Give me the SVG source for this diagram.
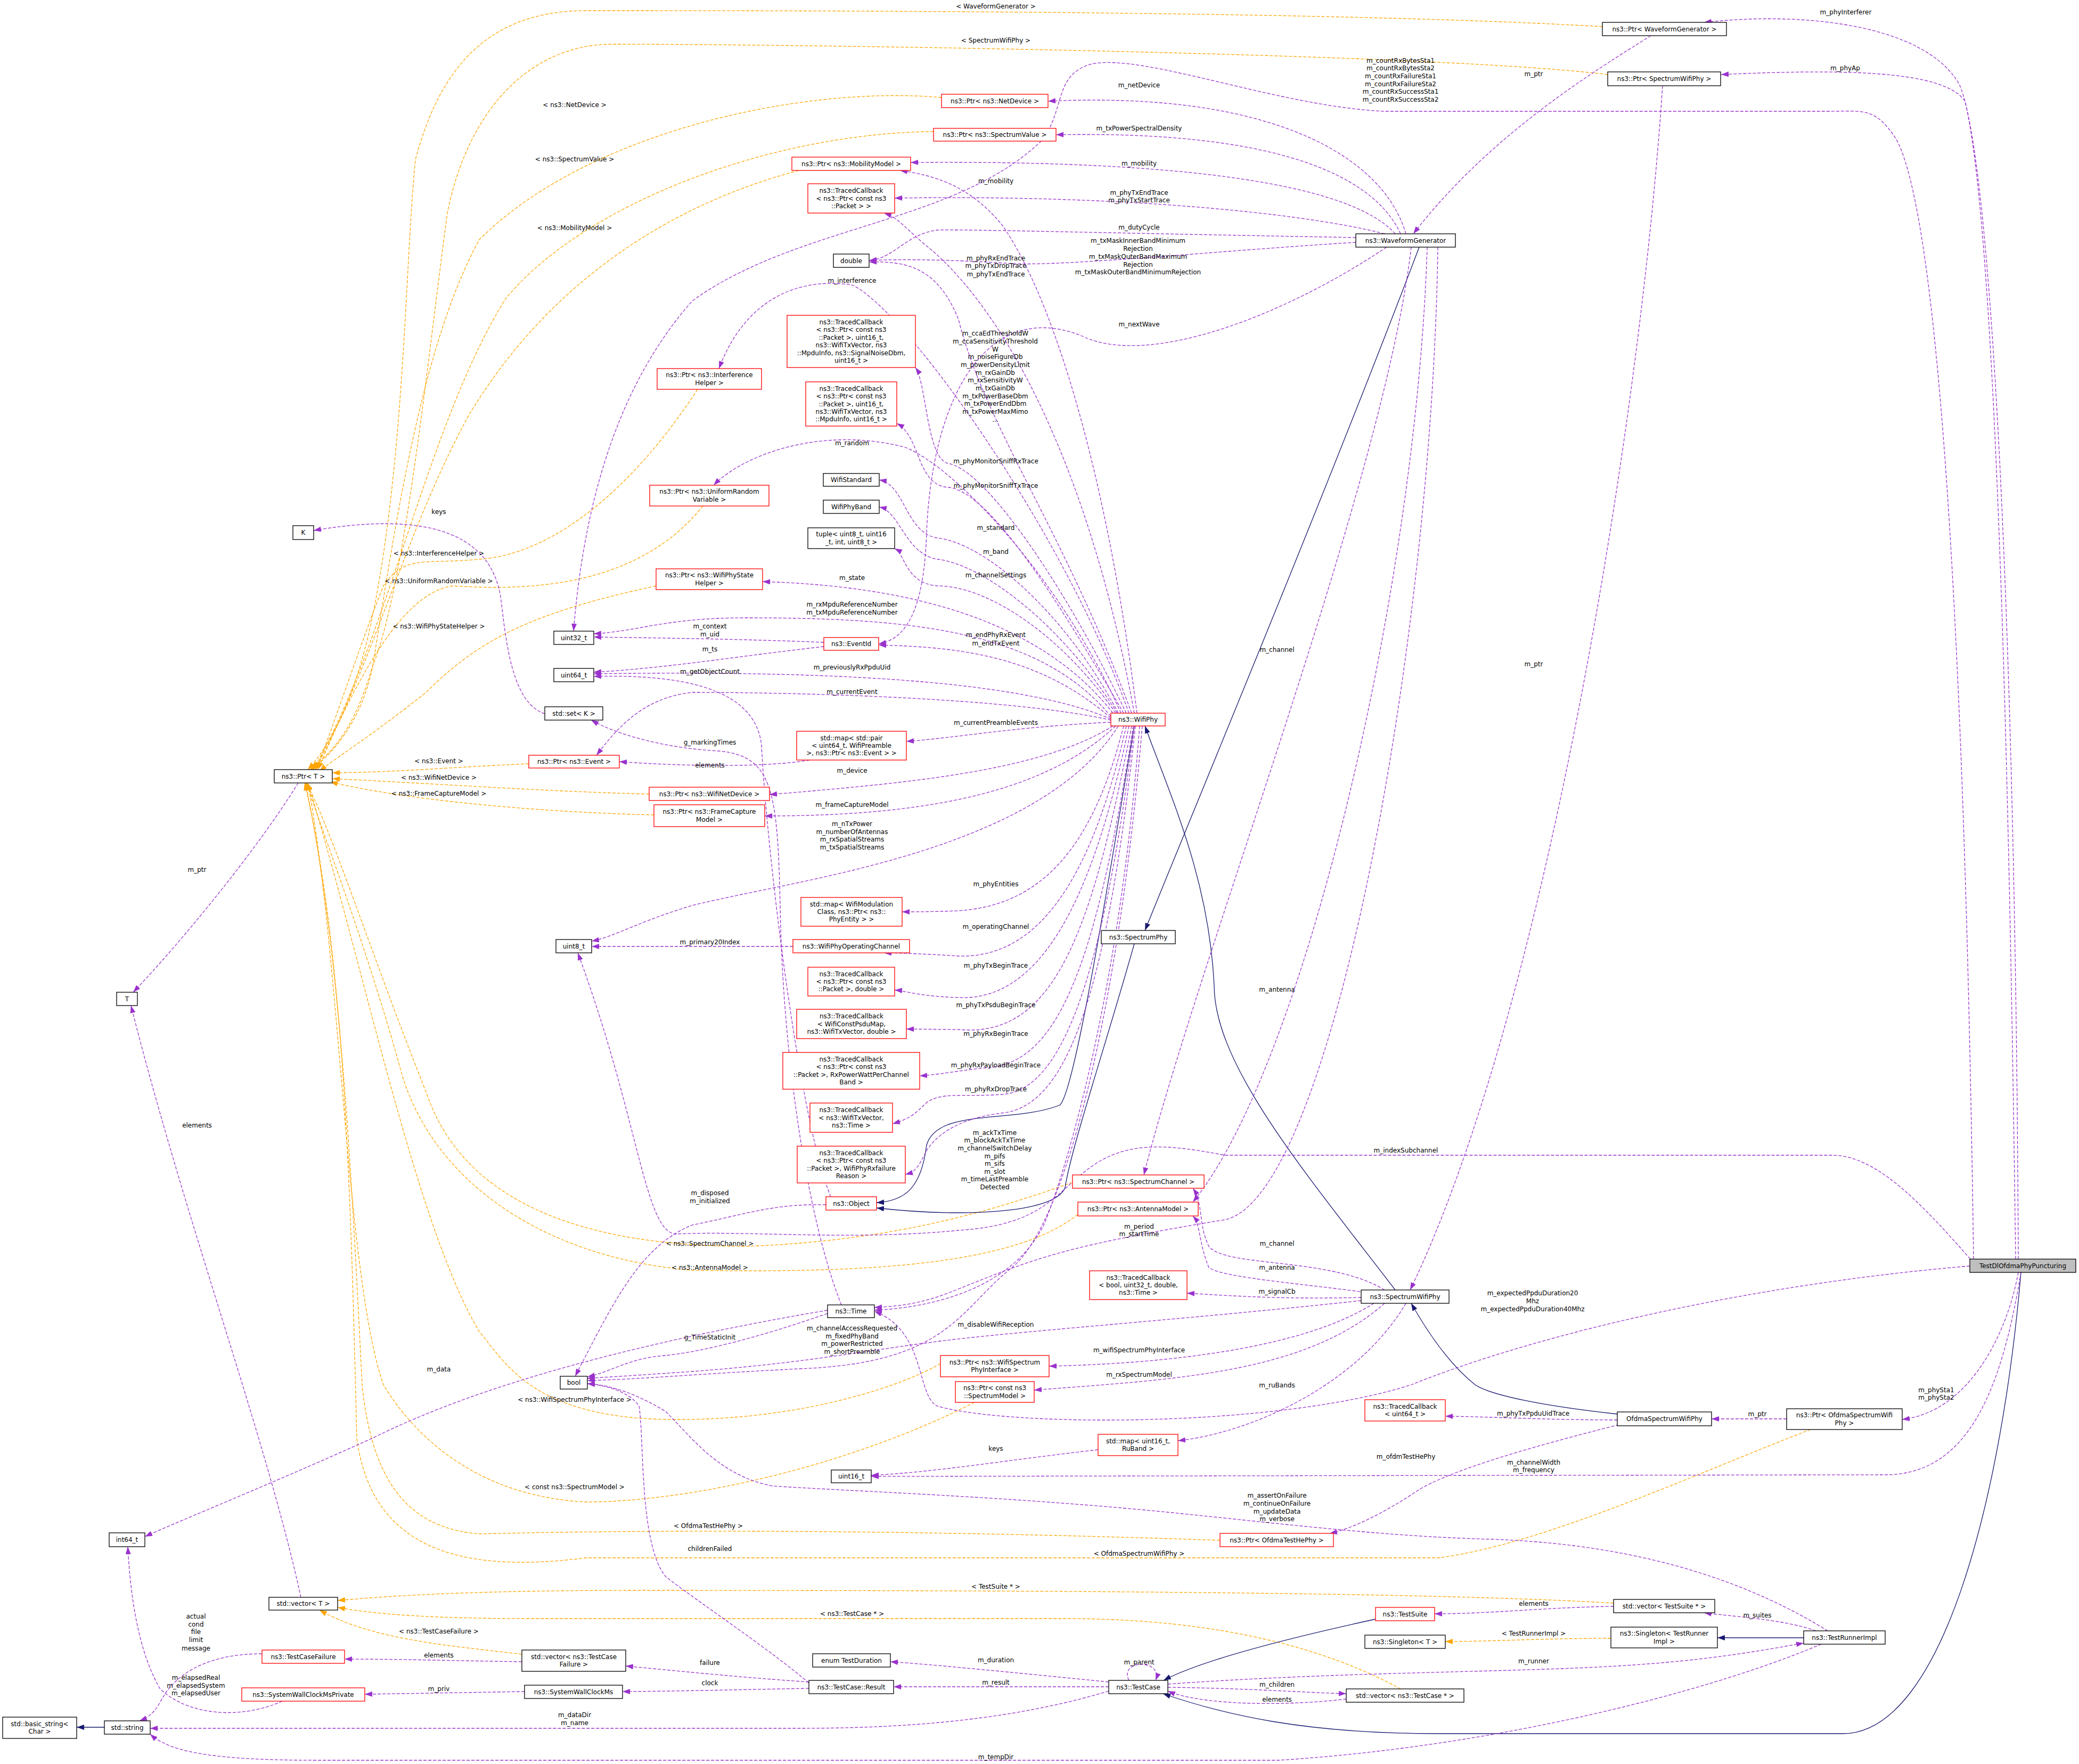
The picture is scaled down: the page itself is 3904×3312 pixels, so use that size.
<svg xmlns="http://www.w3.org/2000/svg" width="3904" height="3312" viewBox="0 0 3904 3312">
<style>
text{font-family:"DejaVu Sans","Liberation Sans",sans-serif;font-size:12px;fill:#000}
.n text{text-anchor:middle}
.b rect{fill:#fff;stroke:#000;stroke-width:1.3}
.r rect{fill:#fff;stroke:#ff0000;stroke-width:1.3}
.g rect{fill:#bfbfbf;stroke:#000;stroke-width:1.3}
.p{fill:none;stroke:#9a32cd;stroke-width:1.3;stroke-dasharray:6,3;marker-end:url(#ap)}
.o{fill:none;stroke:#ffa500;stroke-width:1.3;stroke-dasharray:6,3;marker-end:url(#ao)}
.u{fill:none;stroke:#191970;stroke-width:1.3;marker-end:url(#au)}
.l text{text-anchor:middle}
</style>
<defs>
<marker id="ap" markerUnits="userSpaceOnUse" markerWidth="16" markerHeight="12" refX="14" refY="5" orient="auto"><path d="M0,0 L14,5 L0,10 z" fill="#9a32cd"/></marker>
<marker id="ao" markerUnits="userSpaceOnUse" markerWidth="16" markerHeight="12" refX="14" refY="5" orient="auto"><path d="M0,0 L14,5 L0,10 z" fill="#ffa500"/></marker>
<marker id="au" markerUnits="userSpaceOnUse" markerWidth="16" markerHeight="12" refX="14" refY="5" orient="auto"><path d="M0,0 L14,5 L0,10 z" fill="#191970"/></marker>
</defs>
<rect width="3904" height="3312" fill="#fff"/>
<g id="edges">
<path class="o" d="M3009,50 C2500,20 1500,20 1100,20 C900,20 820,150 780,300 C760,500 760,900 690,1200 C660,1320 620,1400 578,1445"/>
<path class="o" d="M3019,140 C2700,100 1500,83 1150,83 C1000,83 880,200 840,400 C800,700 760,1100 700,1250 C670,1350 640,1400 582,1445"/>
<path class="o" d="M1768,183 C1500,160 1100,250 900,450 C790,650 740,1000 700,1250 C680,1350 630,1410 585,1445"/>
<path class="o" d="M1753,247 C1450,250 1100,380 950,560 C800,800 730,1200 588,1445"/>
<path class="o" d="M1500,320 C1200,400 1000,580 880,780 C760,1000 700,1250 591,1445"/>
<path class="o" d="M1310,731 C1200,900 1050,1040 900,1050 C800,1060 760,1040 720,1100 C680,1200 620,1380 594,1445"/>
<path class="o" d="M1320,950 C1200,1100 1000,1110 850,1100 C780,1110 700,1200 597,1445"/>
<path class="o" d="M1232,1100 C1000,1150 900,1200 800,1300 C700,1380 620,1430 600,1448"/>
<path class="o" d="M993,1434 C850,1440 750,1450 624,1451"/>
<path class="o" d="M1219,1491 C1000,1485 800,1470 624,1462"/>
<path class="o" d="M1228,1530 C1000,1525 750,1500 620,1468"/>
<path class="o" d="M2014,2220 C1900,2260 1700,2330 1400,2340 C1000,2340 850,2200 800,2050 C700,1800 620,1550 575,1470"/>
<path class="o" d="M2024,2280 C1900,2380 1600,2390 1300,2385 C1000,2360 800,2200 750,2000 C680,1750 600,1550 576,1470"/>
<path class="o" d="M1766,2560 C1700,2600 1500,2670 1250,2665 C1000,2660 950,2560 900,2500 C780,2300 680,1800 578,1470"/>
<path class="o" d="M1830,2633 C1600,2750 1300,2820 1100,2820 C900,2810 780,2700 720,2600 C650,2400 640,1800 578,1470"/>
<path class="o" d="M2291,2892 C1800,2875 1300,2870 900,2880 C780,2870 700,2800 680,2600 C660,2200 640,1800 574,1470"/>
<path class="o" d="M3400,2684 C3200,2760 2900,2900 2700,2925 L1100,2925 C900,2950 700,2930 670,2700 C660,2300 650,1800 572,1470"/>
<path class="o" d="M3030,3010 C2700,2990 2000,2986 1200,2986 C900,2986 750,2995 634,3005"/>
<path class="o" d="M2630,3171 C2500,3100 2300,3039 2000,3039 L1000,3039 C800,3039 700,3030 634,3018"/>
<path class="o" d="M980,3106 C850,3090 700,3080 600,3023"/>
<path class="o" d="M3025,3076 C2900,3076 2800,3082 2714,3082"/>
<path class="u" d="M3795,2389 C3760,2800 3650,3255 3460,3255 L2700,3255 C2450,3255 2300,3220 2184,3180"/>
<path class="u" d="M2665,464 C2500,900 2250,1500 2150,1747"/>
<path class="u" d="M2130,1363 C2090,1600 2020,2050 1990,2075 C1900,2110 1760,2080 1740,2150 C1730,2230 1700,2255 1646,2258"/>
<path class="u" d="M2130,1772 C2080,1950 2010,2160 2000,2230 C1980,2280 1800,2285 1646,2268"/>
<path class="u" d="M2620,2422 C2450,2200 2280,2000 2280,1850 C2270,1650 2200,1500 2150,1363"/>
<path class="u" d="M3037,2655 C2900,2640 2800,2620 2770,2600 C2720,2560 2680,2500 2650,2447"/>
<path class="u" d="M3387,3075 L3225,3075"/>
<path class="u" d="M2583,3040 C2400,3080 2250,3120 2185,3155"/>
<path class="u" d="M196,3243 L144,3243"/>
<path class="p" d="M3790,2364 C3785,1200 3740,300 3680,160 C3620,50 3400,20 3200,42"/>
<path class="p" d="M3785,2364 C3770,1200 3740,400 3690,190 C3650,130 3450,130 3232,140"/>
<path class="p" d="M3706,2364 C3690,1200 3640,400 3560,260 C3520,200 3500,209 3430,209 L2600,209 C2400,200 2150,100 2050,120 C1980,140 2000,200 1960,260 C1800,420 1500,420 1300,565 C1180,700 1100,900 1077,1185"/>
<path class="p" d="M3795,2389 C3760,2600 3700,2769 3540,2769 L1636,2772"/>
<path class="p" d="M3790,2389 C3770,2500 3700,2650 3572,2665"/>
<path class="p" d="M3699,2377 C3300,2410 2900,2500 2650,2600 C2400,2680 1900,2680 1760,2640 C1720,2620 1740,2500 1642,2462"/>
<path class="p" d="M3700,2364 C3600,2250 3520,2169 3440,2169 L2300,2169 C2200,2150 2120,2140 2050,2190 C1980,2240 1960,2300 1800,2310 C1600,2330 1400,2310 1268,2317 C1210,2310 1200,2100 1085,1789"/>
<path class="p" d="M3100,67 C3000,130 2800,250 2654,439"/>
<path class="p" d="M3122,161 C3080,800 2900,1900 2648,2422"/>
<path class="p" d="M2640,439 C2600,300 2400,170 1968,190"/>
<path class="p" d="M2630,439 C2580,330 2400,245 1983,253"/>
<path class="p" d="M2620,439 C2550,360 2300,300 1710,305"/>
<path class="p" d="M2600,439 C2450,400 2100,365 1680,372"/>
<path class="p" d="M2546,446 C2100,438 1800,430 1760,432 C1700,440 1680,485 1632,489"/>
<path class="p" d="M2546,455 C2300,470 2000,500 1900,495 C1800,488 1700,486 1632,489"/>
<path class="p" d="M2604,464 C2400,600 2150,690 2030,630 C1850,560 1750,750 1740,1000 C1735,1150 1700,1200 1650,1209"/>
<path class="p" d="M2650,464 C2600,900 2250,1800 2148,2206"/>
<path class="p" d="M2680,464 C2660,1100 2450,2000 2240,2257"/>
<path class="p" d="M2700,464 C2690,1200 2500,2250 2300,2290 C2000,2340 1950,2360 1800,2420 C1740,2445 1700,2452 1642,2455"/>
<path class="p" d="M2135,1339 C2080,900 1980,560 1880,420 C1820,350 1760,330 1690,320"/>
<path class="p" d="M2130,1339 C2050,900 1900,600 1750,470 C1700,430 1690,410 1660,400"/>
<path class="p" d="M2125,1339 C2000,1000 1850,800 1800,600 C1760,500 1700,490 1632,492"/>
<path class="p" d="M2120,1339 C2000,1000 1700,580 1600,535 C1500,520 1400,560 1350,692"/>
<path class="p" d="M2115,1339 C2000,1100 1850,880 1780,870 C1740,860 1740,720 1719,690"/>
<path class="p" d="M2110,1339 C2000,1150 1860,920 1780,915 C1720,910 1730,820 1684,795"/>
<path class="p" d="M2105,1339 C2000,1100 1800,880 1700,840 C1550,800 1400,850 1340,911"/>
<path class="p" d="M2100,1339 C2000,1150 1850,1020 1760,1010 C1700,1000 1700,910 1651,901"/>
<path class="p" d="M2098,1339 C2000,1180 1850,1060 1760,1050 C1700,1040 1690,960 1651,952"/>
<path class="p" d="M2095,1339 C2000,1200 1860,1100 1760,1100 C1700,1095 1700,1040 1680,1030"/>
<path class="p" d="M2090,1339 C1950,1160 1700,1100 1432,1092"/>
<path class="p" d="M2086,1345 C1950,1180 1700,1160 1400,1160 C1250,1160 1200,1185 1115,1190"/>
<path class="p" d="M2086,1348 C1950,1230 1800,1215 1650,1211"/>
<path class="p" d="M2086,1350 C1900,1270 1500,1260 1115,1265"/>
<path class="p" d="M2086,1352 C1900,1310 1500,1300 1300,1300 C1200,1310 1150,1380 1120,1418"/>
<path class="p" d="M2086,1356 C1900,1365 1800,1385 1702,1392"/>
<path class="p" d="M2090,1363 C1950,1450 1700,1470 1445,1492"/>
<path class="p" d="M2095,1363 C1950,1500 1700,1532 1436,1532"/>
<path class="p" d="M2100,1363 C1950,1600 1500,1650 1300,1700 C1200,1730 1150,1760 1111,1767"/>
<path class="p" d="M2110,1363 C2050,1600 1950,1700 1800,1710 C1750,1712 1720,1712 1694,1712"/>
<path class="p" d="M2115,1363 C2050,1650 1950,1800 1800,1795 C1720,1790 1700,1790 1660,1789"/>
<path class="p" d="M2120,1363 C2050,1700 1950,1880 1800,1873 C1720,1870 1700,1860 1680,1859"/>
<path class="p" d="M2125,1363 C2050,1750 1980,1950 1800,1933 L1702,1932"/>
<path class="p" d="M2128,1363 C2060,1800 1990,2000 1850,2005 C1800,2010 1760,2018 1727,2020"/>
<path class="p" d="M2130,1363 C2070,1850 1990,2050 1880,2055 C1800,2060 1770,2050 1740,2070 C1720,2090 1710,2100 1676,2110"/>
<path class="p" d="M2132,1363 C2075,1900 1995,2080 1880,2090 C1800,2100 1760,2130 1740,2160 C1725,2190 1720,2200 1700,2205"/>
<path class="p" d="M2140,1363 C2100,1900 1990,2230 1960,2300 C1900,2420 1750,2455 1642,2460"/>
<path class="p" d="M2145,1363 C2100,1900 2000,2300 1900,2380 C1800,2460 1780,2560 1500,2570 C1300,2580 1200,2590 1103,2592"/>
<path class="p" d="M2600,2422 C2500,2360 2300,2380 2270,2340 C2250,2300 2260,2260 2240,2231"/>
<path class="p" d="M2590,2430 C2450,2410 2300,2400 2270,2380 C2250,2330 2255,2300 2240,2283"/>
<path class="p" d="M2556,2436 C2400,2440 2300,2432 2229,2428"/>
<path class="p" d="M2556,2442 C2200,2480 1900,2500 1750,2520 C1600,2540 1500,2560 1300,2575 C1200,2582 1150,2585 1103,2588"/>
<path class="p" d="M2580,2447 C2450,2530 2200,2560 1970,2565"/>
<path class="p" d="M2600,2447 C2450,2580 2200,2590 1942,2610"/>
<path class="p" d="M2640,2447 C2550,2600 2350,2690 2212,2705"/>
<path class="p" d="M3037,2666 C2900,2666 2800,2660 2714,2659"/>
<path class="p" d="M3355,2664 L3214,2664"/>
<path class="p" d="M3040,2675 C2900,2710 2720,2760 2660,2800 C2600,2840 2540,2870 2497,2879"/>
<path class="p" d="M3432,3062 C3300,2980 3100,2900 2800,2890 C2600,2885 2400,2860 2200,2840 C1900,2810 1600,2800 1450,2790 C1350,2770 1300,2700 1250,2650 C1200,2620 1150,2600 1103,2598"/>
<path class="p" d="M3410,3062 C3350,3040 3250,3035 3200,3028"/>
<path class="p" d="M2193,3162 C2500,3140 2800,3140 3000,3130 C3200,3120 3300,3100 3387,3085"/>
<path class="p" d="M3420,3087 C3200,3180 2800,3280 2400,3305 L600,3305 C400,3305 320,3290 282,3256"/>
<path class="p" d="M3030,3016 C2900,3018 2800,3030 2694,3030"/>
<path class="p" d="M2120,3155 C2100,3115 2185,3115 2170,3155"/>
<path class="p" d="M2082,3158 C1900,3140 1750,3125 1672,3120"/>
<path class="p" d="M2082,3167 L1678,3167"/>
<path class="p" d="M2193,3168 C2350,3170 2450,3178 2528,3180"/>
<path class="p" d="M2528,3190 C2400,3205 2250,3200 2193,3175"/>
<path class="p" d="M2082,3175 C1900,3230 1700,3245 1500,3245 L282,3245"/>
<path class="p" d="M1519,3158 C1400,3150 1300,3140 1175,3128"/>
<path class="p" d="M1519,3170 C1400,3172 1300,3175 1169,3176"/>
<path class="p" d="M1519,3160 C1450,3100 1300,3000 1250,2960 C1200,2900 1210,2700 1200,2640 C1180,2610 1130,2600 1103,2598"/>
<path class="p" d="M980,3120 C850,3118 750,3115 647,3115"/>
<path class="p" d="M492,3105 C380,3105 330,3150 310,3180 C295,3205 290,3220 262,3231"/>
<path class="p" d="M985,3176 L685,3181"/>
<path class="p" d="M530,3194 C450,3230 350,3220 300,3170 C260,3100 245,3000 240,2904"/>
<path class="p" d="M565,2999 C500,2700 350,2300 246,1888"/>
<path class="p" d="M560,1470 C480,1600 330,1780 250,1863"/>
<path class="p" d="M1023,1340 C960,1320 950,1200 940,1120 C920,1000 800,960 589,996"/>
<path class="p" d="M2062,2722 C1900,2740 1750,2765 1636,2770"/>
<path class="p" d="M1554,2460 C1200,2520 900,2600 700,2700 C500,2790 350,2850 272,2885"/>
<path class="p" d="M1554,2466 C1400,2520 1300,2540 1250,2545 C1180,2550 1150,2575 1103,2585"/>
<path class="p" d="M1580,2450 C1520,2300 1470,2000 1465,1700 C1460,1480 1450,1420 1350,1410 C1250,1405 1160,1380 1110,1352"/>
<path class="p" d="M1560,2247 C1500,2100 1440,1600 1430,1400 C1420,1300 1300,1265 1115,1270"/>
<path class="p" d="M1551,2262 C1450,2260 1400,2280 1300,2300 C1200,2340 1150,2450 1080,2584"/>
<path class="p" d="M1547,1206 C1400,1200 1250,1198 1115,1196"/>
<path class="p" d="M1547,1214 C1400,1230 1250,1255 1115,1262"/>
<path class="p" d="M1520,1427 C1450,1440 1300,1440 1163,1430"/>
<path class="p" d="M1489,1777 L1111,1777"/>
<g class="l">
<text x="1870" y="16">&lt; WaveformGenerator &gt;</text>
<text x="1870" y="80">&lt; SpectrumWifiPhy &gt;</text>
<text x="1079" y="201">&lt; ns3::NetDevice &gt;</text>
<text x="1079" y="303">&lt; ns3::SpectrumValue &gt;</text>
<text x="1079" y="432">&lt; ns3::MobilityModel &gt;</text>
<text x="824" y="965">keys</text>
<text x="824" y="1043">&lt; ns3::InterferenceHelper &gt;</text>
<text x="824" y="1095">&lt; ns3::UniformRandomVariable &gt;</text>
<text x="824" y="1180">&lt; ns3::WifiPhyStateHelper &gt;</text>
<text x="824" y="1433">&lt; ns3::Event &gt;</text>
<text x="824" y="1464">&lt; ns3::WifiNetDevice &gt;</text>
<text x="824" y="1494">&lt; ns3::FrameCaptureModel &gt;</text>
<text x="370" y="1637">m_ptr</text>
<text x="370" y="2117">elements</text>
<text x="3466" y="27">m_phyInterferer</text>
<text x="3465" y="132">m_phyAp</text>
<text x="2880" y="143">m_ptr</text>
<text x="2880" y="1251">m_ptr</text>
<text x="2630" y="118">m_countRxBytesSta1</text>
<text x="2630" y="132">m_countRxBytesSta2</text>
<text x="2630" y="147">m_countRxFailureSta1</text>
<text x="2630" y="162">m_countRxFailureSta2</text>
<text x="2630" y="176">m_countRxSuccessSta1</text>
<text x="2630" y="191">m_countRxSuccessSta2</text>
<text x="2139" y="164">m_netDevice</text>
<text x="2139" y="245">m_txPowerSpectralDensity</text>
<text x="2139" y="311">m_mobility</text>
<text x="1870" y="344">m_mobility</text>
<text x="2139" y="366">m_phyTxEndTrace</text>
<text x="2139" y="380">m_phyTxStartTrace</text>
<text x="2139" y="431">m_dutyCycle</text>
<text x="2137" y="456">m_txMaskInnerBandMinimum</text>
<text x="2137" y="471">Rejection</text>
<text x="2137" y="486">m_txMaskOuterBandMaximum</text>
<text x="2137" y="501">Rejection</text>
<text x="2137" y="515">m_txMaskOuterBandMinimumRejection</text>
<text x="1870" y="489">m_phyRxEndTrace</text>
<text x="1870" y="503">m_phyTxDropTrace</text>
<text x="1870" y="519">m_phyTxEndTrace</text>
<text x="1600" y="531">m_interference</text>
<text x="2139" y="613">m_nextWave</text>
<text x="1869" y="630">m_ccaEdThresholdW</text>
<text x="1869" y="645">m_ccaSensitivityThreshold</text>
<text x="1869" y="660">W</text>
<text x="1869" y="674">m_noiseFigureDb</text>
<text x="1869" y="689">m_powerDensityLimit</text>
<text x="1869" y="704">m_rxGainDb</text>
<text x="1869" y="718">m_rxSensitivityW</text>
<text x="1869" y="733">m_txGainDb</text>
<text x="1869" y="748">m_txPowerBaseDbm</text>
<text x="1869" y="762">m_txPowerEndDbm</text>
<text x="1869" y="777">m_txPowerMaxMimo</text>
<text x="1869" y="792">...</text>
<text x="1600" y="836">m_random</text>
<text x="1870" y="870">m_phyMonitorSniffRxTrace</text>
<text x="1870" y="916">m_phyMonitorSniffTxTrace</text>
<text x="1870" y="995">m_standard</text>
<text x="1870" y="1040">m_band</text>
<text x="1870" y="1084">m_channelSettings</text>
<text x="1600" y="1089">m_state</text>
<text x="1600" y="1139">m_rxMpduReferenceNumber</text>
<text x="1600" y="1154">m_txMpduReferenceNumber</text>
<text x="1333" y="1180">m_context</text>
<text x="1333" y="1195">m_uid</text>
<text x="1333" y="1223">m_ts</text>
<text x="1333" y="1265">m_getObjectCount</text>
<text x="1333" y="1398">g_markingTimes</text>
<text x="1333" y="1441">elements</text>
<text x="1333" y="1773">m_primary20Index</text>
<text x="1870" y="1196">m_endPhyRxEvent</text>
<text x="1870" y="1212">m_endTxEvent</text>
<text x="1600" y="1257">m_previouslyRxPpduUid</text>
<text x="1600" y="1303">m_currentEvent</text>
<text x="1870" y="1361">m_currentPreambleEvents</text>
<text x="1600" y="1451">m_device</text>
<text x="1600" y="1515">m_frameCaptureModel</text>
<text x="1600" y="1551">m_nTxPower</text>
<text x="1600" y="1566">m_numberOfAntennas</text>
<text x="1600" y="1580">m_rxSpatialStreams</text>
<text x="1600" y="1595">m_txSpatialStreams</text>
<text x="1870" y="1664">m_phyEntities</text>
<text x="1870" y="1744">m_operatingChannel</text>
<text x="1870" y="1817">m_phyTxBeginTrace</text>
<text x="1870" y="1891">m_phyTxPsduBeginTrace</text>
<text x="1870" y="1945">m_phyRxBeginTrace</text>
<text x="1870" y="2004">m_phyRxPayloadBeginTrace</text>
<text x="1870" y="2049">m_phyRxDropTrace</text>
<text x="1868" y="2131">m_ackTxTime</text>
<text x="1868" y="2145">m_blockAckTxTime</text>
<text x="1868" y="2160">m_channelSwitchDelay</text>
<text x="1868" y="2175">m_pifs</text>
<text x="1868" y="2189">m_sifs</text>
<text x="1868" y="2204">m_slot</text>
<text x="1868" y="2218">m_timeLastPreamble</text>
<text x="1868" y="2233">Detected</text>
<text x="2398" y="1224">m_channel</text>
<text x="2398" y="1862">m_antenna</text>
<text x="2640" y="2164">m_indexSubchannel</text>
<text x="1333" y="2244">m_disposed</text>
<text x="1333" y="2259">m_initialized</text>
<text x="1333" y="2339">&lt; ns3::SpectrumChannel &gt;</text>
<text x="1333" y="2384">&lt; ns3::AntennaModel &gt;</text>
<text x="1333" y="2515">g_TimeStaticInit</text>
<text x="824" y="2575">m_data</text>
<text x="1079" y="2632">&lt; ns3::WifiSpectrumPhyInterface &gt;</text>
<text x="1079" y="2796">&lt; const ns3::SpectrumModel &gt;</text>
<text x="1330" y="2869">&lt; OfdmaTestHePhy &gt;</text>
<text x="1333" y="2912">childrenFailed</text>
<text x="824" y="3067">&lt; ns3::TestCaseFailure &gt;</text>
<text x="368" y="3039">actual</text>
<text x="368" y="3054">cond</text>
<text x="368" y="3068">file</text>
<text x="368" y="3083">limit</text>
<text x="368" y="3099">message</text>
<text x="824" y="3112">elements</text>
<text x="368" y="3154">m_elapsedReal</text>
<text x="368" y="3169">m_elapsedSystem</text>
<text x="368" y="3183">m_elapsedUser</text>
<text x="824" y="3175">m_priv</text>
<text x="1333" y="3126">failure</text>
<text x="1333" y="3164">clock</text>
<text x="1079" y="3224">m_dataDir</text>
<text x="1079" y="3239">m_name</text>
<text x="2139" y="2307">m_period</text>
<text x="2139" y="2321">m_startTime</text>
<text x="2398" y="2339">m_channel</text>
<text x="2398" y="2384">m_antenna</text>
<text x="2398" y="2429">m_signalCb</text>
<text x="1600" y="2498">m_channelAccessRequested</text>
<text x="1600" y="2513">m_fixedPhyBand</text>
<text x="1600" y="2527">m_powerRestricted</text>
<text x="1600" y="2542">m_shortPreamble</text>
<text x="1870" y="2491">m_disableWifiReception</text>
<text x="2139" y="2539">m_wifiSpectrumPhyInterface</text>
<text x="2139" y="2585">m_rxSpectrumModel</text>
<text x="2398" y="2605">m_ruBands</text>
<text x="1870" y="2724">keys</text>
<text x="2640" y="2739">m_ofdmTestHePhy</text>
<text x="2398" y="2812">m_assertOnFailure</text>
<text x="2398" y="2827">m_continueOnFailure</text>
<text x="2398" y="2842">m_updateData</text>
<text x="2398" y="2856">m_verbose</text>
<text x="2139" y="2921">&lt; OfdmaSpectrumWifiPhy &gt;</text>
<text x="1870" y="2983">&lt; TestSuite * &gt;</text>
<text x="1600" y="3034">&lt; ns3::TestCase * &gt;</text>
<text x="1870" y="3121">m_duration</text>
<text x="2139" y="3125">m_parent</text>
<text x="1870" y="3163">m_result</text>
<text x="2398" y="3167">m_children</text>
<text x="2398" y="3195">elements</text>
<text x="1870" y="3303">m_tempDir</text>
<text x="2878" y="2432">m_expectedPpduDuration20</text>
<text x="2878" y="2447">Mhz</text>
<text x="2878" y="2462">m_expectedPpduDuration40Mhz</text>
<text x="3636" y="2614">m_phySta1</text>
<text x="3636" y="2628">m_phySta2</text>
<text x="2879" y="2658">m_phyTxPpduUidTrace</text>
<text x="3300" y="2659">m_ptr</text>
<text x="2880" y="2750">m_channelWidth</text>
<text x="2880" y="2764">m_frequency</text>
<text x="2880" y="3015">elements</text>
<text x="3300" y="3037">m_suites</text>
<text x="2880" y="3071">&lt; TestRunnerImpl &gt;</text>
<text x="2880" y="3123">m_runner</text>
</g>
</g>
<g id="n1" class="n b"><rect x="3009" y="42" width="233" height="25"/><text x="3125.5" y="58.5">ns3::Ptr&lt; WaveformGenerator &gt;</text></g>
<g id="n2" class="n b"><rect x="3019" y="135" width="212" height="26"/><text x="3125" y="152">ns3::Ptr&lt; SpectrumWifiPhy &gt;</text></g>
<g id="n3" class="n b"><rect x="2546" y="439" width="187" height="25"/><text x="2639.5" y="455.5">ns3::WaveformGenerator</text></g>
<g id="n4" class="n r"><rect x="1768" y="177" width="200" height="25"/><text x="1868" y="193.5">ns3::Ptr&lt; ns3::NetDevice &gt;</text></g>
<g id="n5" class="n r"><rect x="1753" y="241" width="230" height="24"/><text x="1868" y="257">ns3::Ptr&lt; ns3::SpectrumValue &gt;</text></g>
<g id="n6" class="n r"><rect x="1487" y="295" width="223" height="25"/><text x="1598.5" y="311.5">ns3::Ptr&lt; ns3::MobilityModel &gt;</text></g>
<g id="n7" class="n r"><rect x="1517" y="345" width="163" height="55"/><text x="1598.5" y="362"><tspan x="1598.5" y="362">ns3::TracedCallback</tspan><tspan x="1598.5" y="376.5">&lt; ns3::Ptr&lt; const ns3</tspan><tspan x="1598.5" y="391">::Packet &gt; &gt;</tspan></text></g>
<g id="n8" class="n b"><rect x="1565" y="477" width="67" height="25"/><text x="1598.5" y="493.5">double</text></g>
<g id="n9" class="n r"><rect x="1478" y="592" width="241" height="98"/><text x="1598.5" y="609"><tspan x="1598.5" y="609">ns3::TracedCallback</tspan><tspan x="1598.5" y="623.4">&lt; ns3::Ptr&lt; const ns3</tspan><tspan x="1598.5" y="637.8">::Packet &gt;, uint16_t,</tspan><tspan x="1598.5" y="652.2">ns3::WifiTxVector, ns3</tspan><tspan x="1598.5" y="666.6">::MpduInfo, ns3::SignalNoiseDbm,</tspan><tspan x="1598.5" y="681">uint16_t &gt;</tspan></text></g>
<g id="n10" class="n r"><rect x="1513" y="717" width="171" height="83"/><text x="1598.5" y="733.7"><tspan x="1598.5" y="733.7">ns3::TracedCallback</tspan><tspan x="1598.5" y="748.1">&lt; ns3::Ptr&lt; const ns3</tspan><tspan x="1598.5" y="762.5">::Packet &gt;, uint16_t,</tspan><tspan x="1598.5" y="776.9">ns3::WifiTxVector, ns3</tspan><tspan x="1598.5" y="791.3">::MpduInfo, uint16_t &gt;</tspan></text></g>
<g id="n11" class="n b"><rect x="1546" y="889" width="105" height="24"/><text x="1598.5" y="905">WifiStandard</text></g>
<g id="n12" class="n b"><rect x="1546" y="939" width="105" height="25"/><text x="1598.5" y="955.5">WifiPhyBand</text></g>
<g id="n13" class="n b"><rect x="1517" y="991" width="163" height="39"/><text x="1598.5" y="1007.3"><tspan x="1598.5" y="1007.3">tuple&lt; uint8_t, uint16</tspan><tspan x="1598.5" y="1021.7">_t, int, uint8_t &gt;</tspan></text></g>
<g id="n14" class="n r"><rect x="1234" y="692" width="196" height="39"/><text x="1332" y="708.3"><tspan x="1332" y="708.3">ns3::Ptr&lt; ns3::Interference</tspan><tspan x="1332" y="722.7">Helper &gt;</tspan></text></g>
<g id="n15" class="n r"><rect x="1220" y="911" width="224" height="39"/><text x="1332" y="927.3"><tspan x="1332" y="927.3">ns3::Ptr&lt; ns3::UniformRandom</tspan><tspan x="1332" y="941.7">Variable &gt;</tspan></text></g>
<g id="n16" class="n r"><rect x="1232" y="1068" width="200" height="39"/><text x="1332" y="1084.3"><tspan x="1332" y="1084.3">ns3::Ptr&lt; ns3::WifiPhyState</tspan><tspan x="1332" y="1098.7">Helper &gt;</tspan></text></g>
<g id="n17" class="n b"><rect x="550" y="987" width="39" height="26"/><text x="569.5" y="1004">K</text></g>
<g id="n18" class="n b"><rect x="1040" y="1185" width="75" height="25"/><text x="1077.5" y="1201.5">uint32_t</text></g>
<g id="n19" class="n b"><rect x="1040" y="1255" width="75" height="25"/><text x="1077.5" y="1271.5">uint64_t</text></g>
<g id="n20" class="n b"><rect x="1023" y="1327" width="109" height="25"/><text x="1077.5" y="1343.5">std::set&lt; K &gt;</text></g>
<g id="n21" class="n r"><rect x="993" y="1418" width="170" height="24"/><text x="1078" y="1434">ns3::Ptr&lt; ns3::Event &gt;</text></g>
<g id="n22" class="n b"><rect x="515" y="1445" width="109" height="25"/><text x="569.5" y="1461.5">ns3::Ptr&lt; T &gt;</text></g>
<g id="n23" class="n r"><rect x="1219" y="1478" width="226" height="25"/><text x="1332" y="1494.5">ns3::Ptr&lt; ns3::WifiNetDevice &gt;</text></g>
<g id="n24" class="n r"><rect x="1228" y="1511" width="208" height="41"/><text x="1332" y="1528.3"><tspan x="1332" y="1528.3">ns3::Ptr&lt; ns3::FrameCapture</tspan><tspan x="1332" y="1542.7">Model &gt;</tspan></text></g>
<g id="n25" class="n b"><rect x="1044" y="1764" width="67" height="25"/><text x="1077.5" y="1780.5">uint8_t</text></g>
<g id="n26" class="n b"><rect x="219" y="1863" width="39" height="25"/><text x="238.5" y="1879.5">T</text></g>
<g id="n27" class="n r"><rect x="1547" y="1197" width="103" height="24"/><text x="1598.5" y="1213">ns3::EventId</text></g>
<g id="n28" class="n r"><rect x="2086" y="1339" width="102" height="24"/><text x="2137" y="1355">ns3::WifiPhy</text></g>
<g id="n29" class="n r"><rect x="1496" y="1373" width="206" height="54"/><text x="1599" y="1389.6"><tspan x="1599" y="1389.6">std::map&lt; std::pair</tspan><tspan x="1599" y="1404">&lt; uint64_t, WifiPreamble</tspan><tspan x="1599" y="1418.4">&gt;, ns3::Ptr&lt; ns3::Event &gt; &gt;</tspan></text></g>
<g id="n30" class="n r"><rect x="1504" y="1685" width="190" height="54"/><text x="1599" y="1701.6"><tspan x="1599" y="1701.6">std::map&lt; WifiModulation</tspan><tspan x="1599" y="1716">Class, ns3::Ptr&lt; ns3::</tspan><tspan x="1599" y="1730.4">PhyEntity &gt; &gt;</tspan></text></g>
<g id="n31" class="n r"><rect x="1489" y="1764" width="219" height="25"/><text x="1598.5" y="1780.5">ns3::WifiPhyOperatingChannel</text></g>
<g id="n32" class="n r"><rect x="1517" y="1816" width="163" height="54"/><text x="1598.5" y="1832.6"><tspan x="1598.5" y="1832.6">ns3::TracedCallback</tspan><tspan x="1598.5" y="1847">&lt; ns3::Ptr&lt; const ns3</tspan><tspan x="1598.5" y="1861.4">::Packet &gt;, double &gt;</tspan></text></g>
<g id="n33" class="n r"><rect x="1496" y="1895" width="206" height="55"/><text x="1599" y="1912.1"><tspan x="1599" y="1912.1">ns3::TracedCallback</tspan><tspan x="1599" y="1926.5">&lt; WifiConstPsduMap,</tspan><tspan x="1599" y="1940.9">ns3::WifiTxVector, double &gt;</tspan></text></g>
<g id="n34" class="n r"><rect x="1470" y="1976" width="257" height="69"/><text x="1598.5" y="1992.9"><tspan x="1598.5" y="1992.9">ns3::TracedCallback</tspan><tspan x="1598.5" y="2007.3">&lt; ns3::Ptr&lt; const ns3</tspan><tspan x="1598.5" y="2021.7">::Packet &gt;, RxPowerWattPerChannel</tspan><tspan x="1598.5" y="2036.1">Band &gt;</tspan></text></g>
<g id="n35" class="n r"><rect x="1521" y="2071" width="155" height="55"/><text x="1598.5" y="2088.1"><tspan x="1598.5" y="2088.1">ns3::TracedCallback</tspan><tspan x="1598.5" y="2102.5">&lt; ns3::WifiTxVector,</tspan><tspan x="1598.5" y="2116.9">ns3::Time &gt;</tspan></text></g>
<g id="n36" class="n r"><rect x="1497" y="2152" width="203" height="69"/><text x="1598.5" y="2168.9"><tspan x="1598.5" y="2168.9">ns3::TracedCallback</tspan><tspan x="1598.5" y="2183.3">&lt; ns3::Ptr&lt; const ns3</tspan><tspan x="1598.5" y="2197.7">::Packet &gt;, WifiPhyRxfailure</tspan><tspan x="1598.5" y="2212.1">Reason &gt;</tspan></text></g>
<g id="n37" class="n b"><rect x="2068" y="1747" width="139" height="25"/><text x="2137.5" y="1763.5">ns3::SpectrumPhy</text></g>
<g id="n38" class="n r"><rect x="2014" y="2206" width="247" height="25"/><text x="2137.5" y="2222.5">ns3::Ptr&lt; ns3::SpectrumChannel &gt;</text></g>
<g id="n39" class="n r"><rect x="1551" y="2247" width="95" height="25"/><text x="1598.5" y="2263.5">ns3::Object</text></g>
<g id="n40" class="n r"><rect x="2024" y="2257" width="226" height="26"/><text x="2137" y="2274">ns3::Ptr&lt; ns3::AntennaModel &gt;</text></g>
<g id="n41" class="n b"><rect x="1554" y="2450" width="88" height="24"/><text x="1598" y="2466">ns3::Time</text></g>
<g id="n42" class="n r"><rect x="2046" y="2386" width="183" height="54"/><text x="2137.5" y="2402.6"><tspan x="2137.5" y="2402.6">ns3::TracedCallback</tspan><tspan x="2137.5" y="2417">&lt; bool, uint32_t, double,</tspan><tspan x="2137.5" y="2431.4">ns3::Time &gt;</tspan></text></g>
<g id="n43" class="n b"><rect x="2556" y="2422" width="165" height="25"/><text x="2638.5" y="2438.5">ns3::SpectrumWifiPhy</text></g>
<g id="n44" class="n r"><rect x="1766" y="2545" width="204" height="40"/><text x="1868" y="2561.8"><tspan x="1868" y="2561.8">ns3::Ptr&lt; ns3::WifiSpectrum</tspan><tspan x="1868" y="2576.2">PhyInterface &gt;</tspan></text></g>
<g id="n45" class="n r"><rect x="1794" y="2594" width="148" height="39"/><text x="1868" y="2610.3"><tspan x="1868" y="2610.3">ns3::Ptr&lt; const ns3</tspan><tspan x="1868" y="2624.7">::SpectrumModel &gt;</tspan></text></g>
<g id="n46" class="n r"><rect x="2563" y="2628" width="151" height="40"/><text x="2638.5" y="2644.8"><tspan x="2638.5" y="2644.8">ns3::TracedCallback</tspan><tspan x="2638.5" y="2659.2">&lt; uint64_t &gt;</tspan></text></g>
<g id="n47" class="n r"><rect x="2062" y="2693" width="150" height="40"/><text x="2137" y="2709.8"><tspan x="2137" y="2709.8">std::map&lt; uint16_t,</tspan><tspan x="2137" y="2724.2">RuBand &gt;</tspan></text></g>
<g id="n48" class="n b"><rect x="1561" y="2760" width="75" height="24"/><text x="1598.5" y="2776">uint16_t</text></g>
<g id="n49" class="n r"><rect x="2291" y="2879" width="213" height="25"/><text x="2397.5" y="2895.5">ns3::Ptr&lt; OfdmaTestHePhy &gt;</text></g>
<g id="n50" class="n r"><rect x="2583" y="3018" width="111" height="25"/><text x="2638.5" y="3034.5">ns3::TestSuite</text></g>
<g id="n51" class="n b"><rect x="2563" y="3070" width="151" height="25"/><text x="2638.5" y="3086.5">ns3::Singleton&lt; T &gt;</text></g>
<g id="n52" class="n b"><rect x="1526" y="3105" width="146" height="25"/><text x="1599" y="3121.5">enum TestDuration</text></g>
<g id="n53" class="n b"><rect x="1519" y="3155" width="159" height="25"/><text x="1598.5" y="3171.5">ns3::TestCase::Result</text></g>
<g id="n54" class="n b"><rect x="2082" y="3155" width="111" height="25"/><text x="2137.5" y="3171.5">ns3::TestCase</text></g>
<g id="n55" class="n b"><rect x="2528" y="3171" width="221" height="25"/><text x="2638.5" y="3187.5">std::vector&lt; ns3::TestCase * &gt;</text></g>
<g id="n56" class="n g"><rect x="3699" y="2364" width="199" height="25"/><text x="3798.5" y="2380.5">TestDlOfdmaPhyPuncturing</text></g>
<g id="n57" class="n b"><rect x="3037" y="2651" width="177" height="26"/><text x="3125.5" y="2668">OfdmaSpectrumWifiPhy</text></g>
<g id="n58" class="n b"><rect x="3355" y="2645" width="217" height="39"/><text x="3463.5" y="2661.3"><tspan x="3463.5" y="2661.3">ns3::Ptr&lt; OfdmaSpectrumWifi</tspan><tspan x="3463.5" y="2675.7">Phy &gt;</tspan></text></g>
<g id="n59" class="n b"><rect x="3030" y="3003" width="190" height="25"/><text x="3125" y="3019.5">std::vector&lt; TestSuite * &gt;</text></g>
<g id="n60" class="n b"><rect x="3025" y="3055" width="200" height="39"/><text x="3125" y="3071.3"><tspan x="3125" y="3071.3">ns3::Singleton&lt; TestRunner</tspan><tspan x="3125" y="3085.7">Impl &gt;</tspan></text></g>
<g id="n61" class="n b"><rect x="3387" y="3062" width="153" height="25"/><text x="3463.5" y="3078.5">ns3::TestRunnerImpl</text></g>
<g id="n62" class="n b"><rect x="205" y="2878" width="67" height="26"/><text x="238.5" y="2895">int64_t</text></g>
<g id="n63" class="n b"><rect x="1052" y="2584" width="51" height="24"/><text x="1077.5" y="2600">bool</text></g>
<g id="n64" class="n b"><rect x="505" y="2999" width="129" height="24"/><text x="569.5" y="3015">std::vector&lt; T &gt;</text></g>
<g id="n65" class="n r"><rect x="492" y="3098" width="155" height="25"/><text x="569.5" y="3114.5">ns3::TestCaseFailure</text></g>
<g id="n66" class="n b"><rect x="980" y="3098" width="195" height="40"/><text x="1077.5" y="3114.8"><tspan x="1077.5" y="3114.8">std::vector&lt; ns3::TestCase</tspan><tspan x="1077.5" y="3129.2">Failure &gt;</tspan></text></g>
<g id="n67" class="n r"><rect x="454" y="3169" width="231" height="25"/><text x="569.5" y="3185.5">ns3::SystemWallClockMsPrivate</text></g>
<g id="n68" class="n b"><rect x="985" y="3164" width="184" height="25"/><text x="1077" y="3180.5">ns3::SystemWallClockMs</text></g>
<g id="n69" class="n b"><rect x="5" y="3224" width="139" height="40"/><text x="74.5" y="3240.8"><tspan x="74.5" y="3240.8">std::basic_string&lt;</tspan><tspan x="74.5" y="3255.2">Char &gt;</tspan></text></g>
<g id="n70" class="n b"><rect x="196" y="3231" width="86" height="25"/><text x="239" y="3247.5">std::string</text></g>
</svg>
